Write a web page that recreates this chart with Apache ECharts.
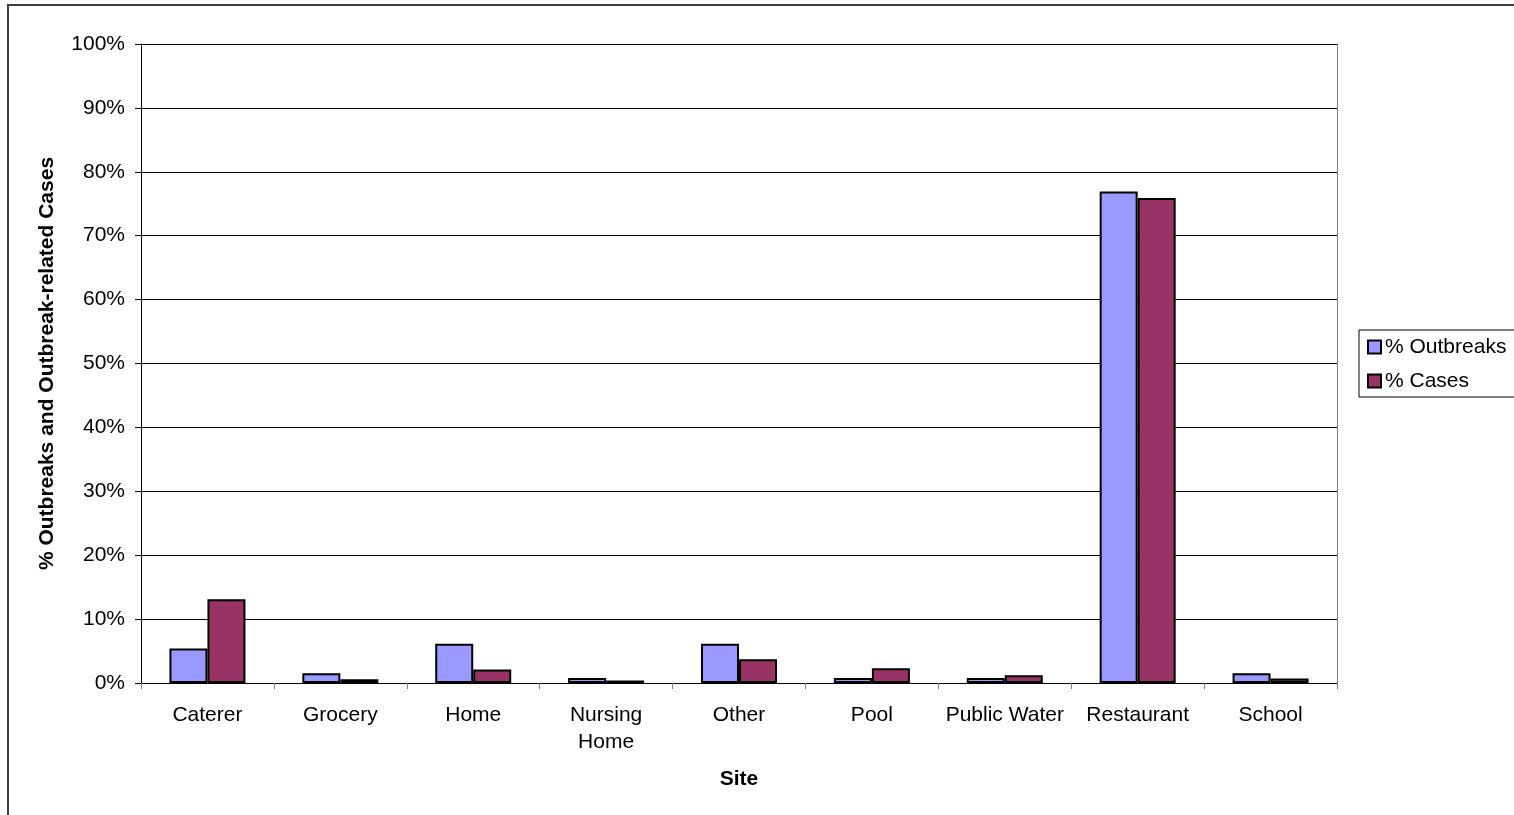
<!DOCTYPE html>
<html>
<head>
<meta charset="utf-8">
<script src="https://cdn.jsdelivr.net/npm/echarts@6/dist/echarts.min.js"></script>
<style>
  html, body { margin: 0; padding: 0; background: #fff; }
  #chart { width: 1514px; height: 815px; }
</style>
</head>
<body>
<div id="chart"></div>
<script>
// Outbreak sites and their share of outbreaks / outbreak-related cases (%)
const sites = ['Caterer', 'Grocery', 'Home', 'Nursing\nHome', 'Other', 'Pool', 'Public Water', 'Restaurant', 'School'];
const pctOutbreaks = [5.38, 1.54, 6.15, 0.77, 6.15, 0.77, 0.77, 76.92, 1.54];
const pctCases = [13.1, 0.6, 2.1, 0.4, 3.7, 2.3, 1.2, 75.9, 0.7];
const yTicks = [0, 10, 20, 30, 40, 50, 60, 70, 80, 90, 100];

const font = 'Liberation Sans, Arial, sans-serif';
const chart = echarts.init(document.getElementById('chart'), null, { renderer: 'canvas' });

chart.setOption({
  animation: false,
  backgroundColor: '#ffffff',
  textStyle: { fontFamily: font, color: '#000' },
  graphic: [{
    type: 'rect',
    shape: { x: 8, y: 5, width: 1700, height: 900 },
    style: { fill: 'none', stroke: '#404040', lineWidth: 2 },
    silent: true
  }],
  grid: { left: 141, right: 177, top: 44, bottom: 132 },
  legend: {
    left: 1359,
    top: 330,
    orient: 'vertical',
    padding: [6, 60, 5, 8],
    itemGap: 12,
    itemWidth: 13,
    itemHeight: 13,
    icon: 'rect',
    borderColor: '#000',
    borderWidth: 1,
    backgroundColor: '#fff',
    textStyle: { fontFamily: font, fontSize: 21, color: '#000', lineHeight: 22, padding: [0, 0, 0, -1] },
    data: ['% Outbreaks', '% Cases']
  },
  xAxis: {
    type: 'category',
    data: sites,
    name: 'Site',
    nameLocation: 'middle',
    nameGap: 86,
    nameTextStyle: { fontFamily: font, fontSize: 21, fontWeight: 'bold', color: '#000' },
    axisLine: { lineStyle: { color: '#000', width: 1 } },
    axisTick: { show: true, length: 6, lineStyle: { color: '#808080' }, alignWithLabel: false },
    axisLabel: { fontFamily: font, fontSize: 21, color: '#000', margin: 19, lineHeight: 27, interval: 0 },
    splitLine: { show: false }
  },
  yAxis: [{
    type: 'value',
    min: 0,
    max: 100,
    interval: 10,
    name: '% Outbreaks and Outbreak-related Cases',
    nameLocation: 'middle',
    nameGap: 83,
    nameTextStyle: { fontFamily: font, fontSize: 21, fontWeight: 'bold', color: '#000' },
    axisLine: { show: true, lineStyle: { color: '#000', width: 1 } },
    axisTick: { show: true, length: 6, lineStyle: { color: '#000' } },
    axisLabel: {
      fontFamily: font, fontSize: 21, color: '#000', margin: 16,
      formatter: v => (yTicks.includes(v) ? v + '%' : '')
    },
    splitLine: { show: true, lineStyle: { color: '#000', width: 1 } }
  }, {
    type: 'value',
    min: 0,
    max: 100,
    position: 'right',
    axisLine: { show: true, lineStyle: { color: '#808080', width: 1 } },
    axisTick: { show: false },
    axisLabel: { show: false },
    splitLine: { show: false }
  }],
  series: [{
    name: '% Outbreaks',
    type: 'bar',
    data: pctOutbreaks,
    barWidth: 38,
    barGap: '0%',
    itemStyle: { color: '#9999FF', borderColor: '#000', borderWidth: 2 }
  }, {
    name: '% Cases',
    type: 'bar',
    data: pctCases,
    barWidth: 38,
    barGap: '0%',
    itemStyle: { color: '#993366', borderColor: '#000', borderWidth: 2 }
  }]
});
</script>
</body>
</html>
